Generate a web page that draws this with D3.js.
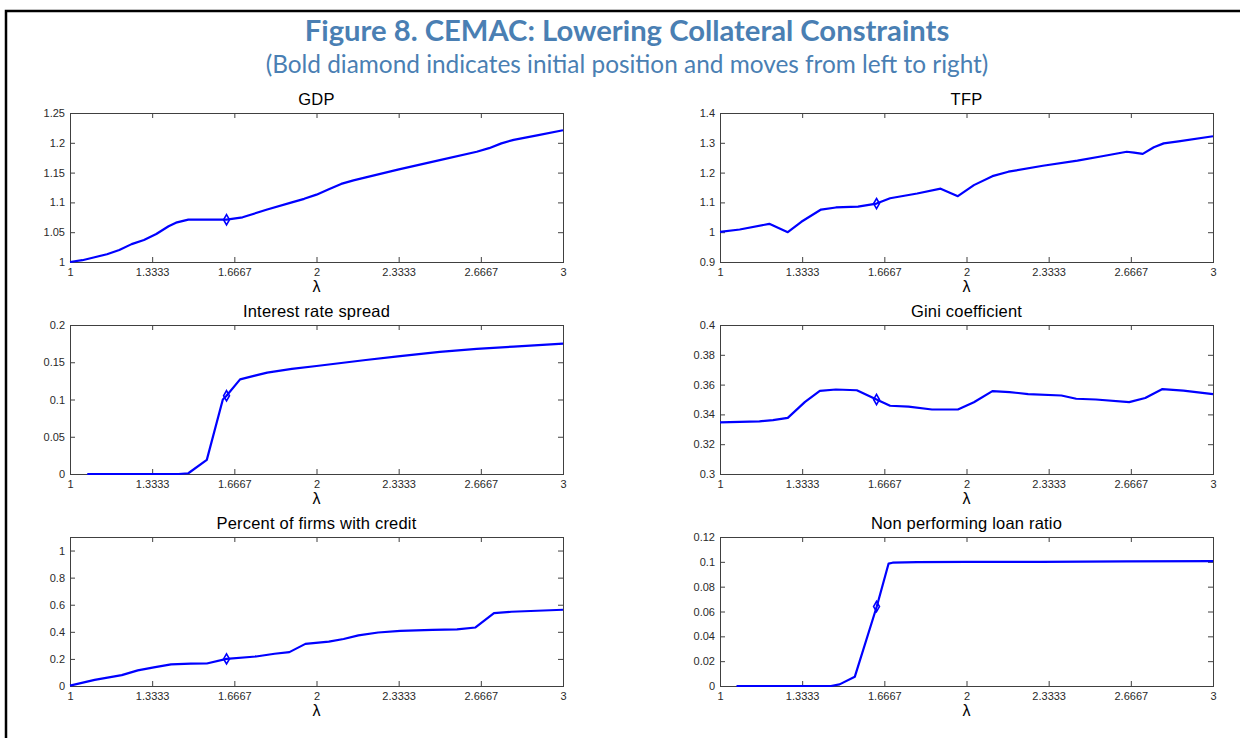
<!DOCTYPE html>
<html><head><meta charset="utf-8">
<script src="https://cdn.jsdelivr.net/npm/d3@7"></script>
<style>body{margin:0;background:#fff;} svg{display:block;}</style>
</head><body><svg id="c" width="1240" height="738"></svg>
<script>
// ---------- data ----------
const xTickValues = [1, 4/3, 5/3, 2, 7/3, 8/3, 3];
const xTickLabels = ["1","1.3333","1.6667","2","2.3333","2.6667","3"];
const diamondLambda = 1.635;

const gdpLambda = [1.00,1.05,1.10,1.15,1.20,1.25,1.30,1.35,1.40,1.43,1.48,1.55,1.635,1.70,1.80,1.90,1.95,2.00,2.05,2.10,2.15,2.20,2.33,2.50,2.65,2.70,2.75,2.80,2.90,3.00];
const gdpValues = [1.000,1.003,1.008,1.013,1.020,1.030,1.037,1.047,1.060,1.066,1.071,1.071,1.071,1.075,1.088,1.100,1.106,1.113,1.122,1.131,1.137,1.142,1.155,1.171,1.185,1.191,1.199,1.205,1.213,1.221];
const gdpTicks = [1,1.05,1.1,1.15,1.2,1.25];
const gdpTickLabels = ["1","1.05","1.1","1.15","1.2","1.25"];

const tfpLambda = [1.00,1.08,1.20,1.275,1.33,1.41,1.47,1.56,1.635,1.69,1.80,1.895,1.965,2.03,2.105,2.17,2.31,2.45,2.55,2.65,2.68,2.715,2.76,2.80,2.86,3.00];
const tfpValues = [1.001,1.009,1.028,1.000,1.035,1.076,1.083,1.086,1.096,1.114,1.130,1.146,1.121,1.158,1.188,1.203,1.223,1.240,1.255,1.270,1.267,1.263,1.285,1.298,1.305,1.322];
const tfpTicks = [0.9,1,1.1,1.2,1.3,1.4];
const tfpTickLabels = ["0.9","1","1.1","1.2","1.3","1.4"];

const spreadLambda = [1.07,1.44,1.48,1.555,1.62,1.635,1.69,1.75,1.80,1.90,2.00,2.10,2.20,2.33,2.50,2.65,2.80,3.00];
const spreadValues = [0,0,0.001,0.019,0.100,0.105,0.127,0.132,0.136,0.141,0.145,0.149,0.153,0.158,0.164,0.168,0.171,0.175];
const spreadTicks = [0,0.05,0.1,0.15,0.2];
const spreadTickLabels = ["0","0.05","0.1","0.15","0.2"];

const giniLambda = [1.00,1.16,1.215,1.275,1.345,1.405,1.47,1.555,1.635,1.69,1.765,1.86,1.965,2.03,2.105,2.175,2.25,2.385,2.445,2.525,2.66,2.725,2.795,2.88,3.00];
const giniValues = [0.3346,0.3353,0.3362,0.3377,0.3484,0.3558,0.3567,0.3562,0.3500,0.3458,0.3452,0.3433,0.3433,0.3482,0.3556,0.3550,0.3536,0.3527,0.3505,0.3500,0.3482,0.3510,0.3570,0.3560,0.3536];
const giniTicks = [0.3,0.32,0.34,0.36,0.38,0.4];
const giniTickLabels = ["0.3","0.32","0.34","0.36","0.38","0.4"];

const creditLambda = [1.00,1.10,1.21,1.275,1.34,1.41,1.49,1.555,1.635,1.755,1.83,1.89,1.955,2.05,2.11,2.17,2.25,2.34,2.47,2.57,2.645,2.72,2.79,3.00];
const creditValues = [0.003,0.045,0.080,0.115,0.138,0.160,0.165,0.166,0.200,0.218,0.238,0.250,0.311,0.328,0.347,0.374,0.395,0.407,0.414,0.418,0.432,0.538,0.548,0.563];
const creditTicks = [0,0.2,0.4,0.6,0.8,1];
const creditTickLabels = ["0","0.2","0.4","0.6","0.8","1"];

const nplLambda = [1.067,1.45,1.485,1.547,1.636,1.684,1.70,1.80,2.00,2.30,2.65,3.00];
const nplValues = [0,0,0.0013,0.0075,0.064,0.0986,0.0993,0.0997,0.0999,0.1000,0.1003,0.1005];
const nplTicks = [0,0.02,0.04,0.06,0.08,0.1,0.12];
const nplTickLabels = ["0","0.02","0.04","0.06","0.08","0.1","0.12"];

const panelTitles = ["GDP","TFP","Interest rate spread","Gini coefficient","Percent of firms with credit","Non performing loan ratio"];
const diamondValues = [1.071,1.096,0.105,0.350,0.200,0.064];

const figTitle = "Figure 8. CEMAC: Lowering Collateral Constraints";
const figSubtitle = "(Bold diamond indicates initial position and moves from left to right)";

// ---------- layout ----------
const panels = [
  {lam:gdpLambda, val:gdpValues, dom:[1,1.25], ticks:gdpTicks, labels:gdpTickLabels},
  {lam:tfpLambda, val:tfpValues, dom:[0.9,1.4], ticks:tfpTicks, labels:tfpTickLabels},
  {lam:spreadLambda, val:spreadValues, dom:[0,0.2], ticks:spreadTicks, labels:spreadTickLabels},
  {lam:giniLambda, val:giniValues, dom:[0.3,0.4], ticks:giniTicks, labels:giniTickLabels},
  {lam:creditLambda, val:creditValues, dom:[0,1.1], ticks:creditTicks, labels:creditTickLabels},
  {lam:nplLambda, val:nplValues, dom:[0,0.12], ticks:nplTicks, labels:nplTickLabels}
];
const colX = [70, 720], rowY = [113, 325, 537], pw = 493, ph = 149;

const svg = d3.select("#c");
// outer frame
svg.append("rect").attr("x",6).attr("y",11).attr("width",1260).attr("height",760)
  .attr("fill","none").attr("stroke","#000").attr("stroke-width",2.5);

function fitText(sel, target){
  const fs = parseFloat(sel.attr("font-size"));
  const w = sel.node().getComputedTextLength();
  sel.attr("font-size", fs*target/w);
}
const t1 = svg.append("text").attr("x",627).attr("y",41).attr("text-anchor","middle")
  .attr("font-family","Lato, 'Open Sans', sans-serif").attr("font-weight","bold")
  .attr("font-size",26).attr("fill","#4a7fb3").text(figTitle);
fitText(t1, 645);
const t2 = svg.append("text").attr("x",627).attr("y",73).attr("text-anchor","middle")
  .attr("font-family","Lato, 'Open Sans', sans-serif")
  .attr("font-size",22).attr("fill","#4a7fb3").text(figSubtitle);
fitText(t2, 723);

const FONT = "'Liberation Sans', Arial, sans-serif";
const axisColor = "#404040";

panels.forEach((p,i)=>{
  const x0 = colX[i%2], y0 = rowY[Math.floor(i/2)];
  const g = svg.append("g").attr("transform",`translate(${x0},${y0})`);
  const x = d3.scaleLinear().domain([1,3]).range([0,pw]);
  const y = d3.scaleLinear().domain(p.dom).range([ph,0]);

  // axes
  const ax = g.append("g").attr("transform",`translate(0,${ph})`)
    .call(d3.axisBottom(x).tickValues(xTickValues).tickSize(-5).tickPadding(6)
      .tickFormat((d,k)=>xTickLabels[k]));
  const axT = g.append("g")
    .call(d3.axisTop(x).tickValues(xTickValues).tickSize(-5).tickFormat(""));
  const ay = g.append("g")
    .call(d3.axisLeft(y).tickValues(p.ticks).tickSize(-5).tickPadding(5)
      .tickFormat((d,k)=>p.labels[k]));
  const ayR = g.append("g").attr("transform",`translate(${pw},0)`)
    .call(d3.axisRight(y).tickValues(p.ticks).tickSize(-5).tickFormat(""));
  [ax,axT,ay,ayR].forEach(a=>{
    a.select(".domain").remove();
    a.selectAll("line").attr("stroke",axisColor);
    a.selectAll("text").attr("font-family",FONT).attr("font-size",11).attr("fill","#2a2a2a");
  });
  g.append("rect").attr("width",pw).attr("height",ph).attr("fill","none")
    .attr("stroke",axisColor).attr("stroke-width",1).attr("shape-rendering","crispEdges");

  // line
  const pts = p.lam.map((l,k)=>[l,p.val[k]]);
  g.append("path").datum(pts)
    .attr("d", d3.line().x(d=>x(d[0])).y(d=>y(d[1])))
    .attr("fill","none").attr("stroke","#0000ff").attr("stroke-width",2.2)
    .attr("stroke-linejoin","round");

  // diamond
  g.append("path").attr("d", d3.symbol(d3.symbolDiamond, 30)())
    .attr("transform",`translate(${x(diamondLambda)},${y(diamondValues[i])})`)
    .attr("fill","none").attr("stroke","#0000ff").attr("stroke-width",1.6);

  // title
  g.append("text").attr("x",pw/2).attr("y",-8).attr("text-anchor","middle")
    .attr("font-family",FONT).attr("font-size",16.5).attr("letter-spacing",0.2)
    .attr("fill","#000").text(panelTitles[i]);
  // x label
  g.append("text").attr("x",pw/2).attr("y",ph+30).attr("text-anchor","middle")
    .attr("font-family",FONT).attr("font-size",16).attr("fill","#000").text("λ");
});
</script>
</body></html>
